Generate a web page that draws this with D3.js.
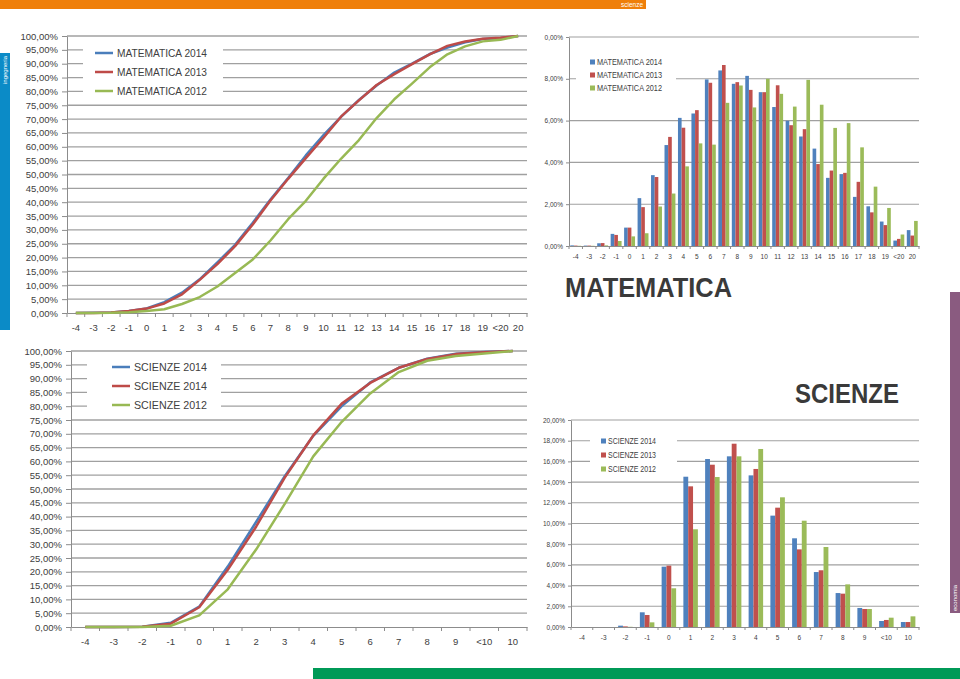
<!DOCTYPE html>
<html><head><meta charset="utf-8">
<script src="https://cdn.jsdelivr.net/npm/d3@7"></script>
<style>
body{margin:0;background:#fff;}
svg{display:block;font-family:"Liberation Sans",Arial,sans-serif;}
</style>
</head><body>
<svg id="c" width="960" height="679"></svg>
<script>
// ---------- DATA ----------
const catsMat = ["-4","-3","-2","-1","0","1","2","3","4","5","6","7","8","9","10","11","12","13","14","15","16","17","18","19","<20","20"];
const catsSci = ["-4","-3","-2","-1","0","1","2","3","4","5","6","7","8","9","<10","10"];

// cumulative distributions (line charts), %
const cumMat2014 = [0.03,0.05,0.18,0.76,1.64,3.93,7.32,12.15,18.28,24.62,32.59,40.99,48.75,56.89,64.25,70.90,76.89,82.13,86.79,90.05,93.49,95.84,97.74,98.91,99.17,100];
const cumMat2013 = [0.02,0.04,0.18,0.71,1.59,3.45,6.75,11.97,17.63,24.13,31.94,40.60,48.44,55.91,63.27,70.96,76.74,82.33,86.25,89.86,93.36,96.43,98.04,99.04,99.38,100];
const cumMat2012 = [0.01,0.02,0.05,0.29,0.75,1.36,3.25,5.76,9.57,14.48,19.33,26.18,33.86,40.49,48.49,55.77,62.44,70.39,77.15,82.80,88.68,93.40,96.24,98.06,98.61,100];

const cumSci2014 = [0,0,0.13,1.55,7.38,21.90,38.13,54.62,69.27,80.03,88.60,93.91,97.19,99.03,99.61,100];
const cumSci2014b = [0,0,0.06,1.22,7.15,20.74,36.42,54.13,69.40,80.93,88.43,93.91,97.13,98.87,99.55,100];
const cumSci2012 = [0,0,0.02,0.47,4.21,13.65,28.14,44.63,61.83,74.36,84.63,92.36,96.48,98.22,99.12,100];

// frequency distributions (bar charts), %
const barMat2014 = [0.03,0.02,0.13,0.58,0.88,2.29,3.39,4.83,6.13,6.34,7.97,8.40,7.76,8.14,7.36,6.65,5.99,5.24,4.66,3.26,3.44,2.35,1.90,1.17,0.26,0.76];
const barMat2013 = [0.02,0.02,0.14,0.53,0.88,1.86,3.30,5.22,5.66,6.50,7.81,8.66,7.84,7.47,7.36,7.69,5.78,5.59,3.92,3.61,3.50,3.07,1.61,1.00,0.34,0.50];
const barMat2012 = [0.01,0.01,0.03,0.24,0.46,0.61,1.89,2.51,3.81,4.91,4.85,6.85,7.68,6.63,8.00,7.28,6.67,7.95,6.76,5.65,5.88,4.72,2.84,1.82,0.55,1.20];

const barSci2014 = [0,0,0.13,1.42,5.83,14.52,16.23,16.49,14.65,10.76,8.57,5.31,3.28,1.84,0.58,0.48];
const barSci2013 = [0,0,0.06,1.16,5.93,13.59,15.68,17.71,15.27,11.53,7.50,5.48,3.22,1.74,0.68,0.48];
const barSci2012 = [0,0,0.02,0.45,3.74,9.44,14.49,16.49,17.20,12.53,10.27,7.73,4.12,1.74,0.90,1.03];

// tick values / labels
const lineYTicks = [0,5,10,15,20,25,30,35,40,45,50,55,60,65,70,75,80,85,90,95,100];
const matBarYTicks = [0,2,4,6,8,10];
const matBarYLabels = ["0,00%","2,00%","4,00%","6,00%","8,00%","0,00%"];
const sciBarYTicks = [0,2,4,6,8,10,12,14,16,18,20];

const namesMatLine = ["MATEMATICA 2014","MATEMATICA 2013","MATEMATICA 2012"];
const namesSciLine = ["SCIENZE 2014","SCIENZE 2014","SCIENZE 2012"];
const namesMatBar = ["MATEMATICA 2014","MATEMATICA 2013","MATEMATICA 2012"];
const namesSciBar = ["SCIENZE 2014","SCIENZE 2013","SCIENZE 2012"];

// ---------- STYLE ----------
const lineCol = ["#4a7ebb","#be4b48","#98b954"];
const barCol = ["#4f81bd","#c0504d","#9bbb59"];
const gridCol = "#a0a0a0";
const axisCol = "#8c8c8c";
const textCol = "#404040";
const fmtPct = d => d3.format(".2f")(d).replace(".", ",") + "%";

const svg = d3.select("#c");

// ---------- DECORATION ----------
svg.append("rect").attr("x",0).attr("y",0).attr("width",646).attr("height",9).attr("fill","#ef7f0a");
svg.append("text").attr("x",632).attr("y",7).attr("text-anchor","middle").attr("font-size",6.5).attr("fill","#fff").text("scienze");
svg.append("rect").attr("x",0).attr("y",53).attr("width",10).attr("height",277).attr("fill","#0b8bc7");
svg.append("text").attr("transform","translate(7.3,70) rotate(-90)").attr("text-anchor","middle").attr("font-size",6).attr("fill","#fff").text("ingegneria");
svg.append("rect").attr("x",950).attr("y",292).attr("width",10).attr("height",321).attr("fill","#8a5b80");
svg.append("text").attr("transform","translate(957.3,598) rotate(-90)").attr("text-anchor","middle").attr("font-size",6).attr("fill","#fff").text("economia");
svg.append("rect").attr("x",313).attr("y",668).attr("width",647).attr("height",11).attr("fill","#009a57");

svg.append("text").attr("x",565).attr("y",297).attr("font-size",27).attr("font-weight","bold")
  .attr("fill","#3a3a3a").attr("textLength",167).attr("lengthAdjust","spacingAndGlyphs").text("MATEMATICA");
svg.append("text").attr("x",795).attr("y",403).attr("font-size",27).attr("font-weight","bold")
  .attr("fill","#3a3a3a").attr("textLength",104).attr("lengthAdjust","spacingAndGlyphs").text("SCIENZE");

// ---------- LINE CHART ----------
function lineChart(o){
  const g = svg.append("g");
  const x = d3.scaleBand().domain(o.cats).range([o.x0,o.x1]);
  const y = d3.scaleLinear().domain([0,100]).range([o.yb,o.yt]);
  g.selectAll("line.grid").data(o.yTicks.filter(d=>d>0)).join("line")
    .attr("x1",o.x0).attr("x2",o.x1).attr("y1",d=>y(d)).attr("y2",d=>y(d))
    .attr("stroke",gridCol).attr("stroke-width",1.3);
  const ya = g.append("g").attr("transform",`translate(${o.x0},0)`)
    .call(d3.axisLeft(y).tickValues(o.yTicks).tickFormat(fmtPct).tickSize(5).tickSizeOuter(0).tickPadding(4));
  ya.attr("font-family",null);
  ya.selectAll("path,line").attr("stroke",axisCol);
  ya.selectAll("text").attr("font-size",9.5).attr("fill",textCol);
  const xa = g.append("g").attr("transform",`translate(0,${o.yb})`)
    .call(d3.axisBottom(x).tickSize(0).tickSizeOuter(0).tickPadding(11));
  xa.attr("font-family",null);
  xa.select("path").attr("stroke",axisCol);
  xa.selectAll("text").attr("font-size",9.5).attr("fill",textCol);
  const bounds = o.cats.map(c=>x(c)).concat([x(o.cats[o.cats.length-1])+x.step()]);
  g.selectAll("line.xt").data(bounds).join("line")
    .attr("x1",d=>d).attr("x2",d=>d).attr("y1",o.yb).attr("y2",o.yb+4).attr("stroke",axisCol);
  // legend
  const lg = g.append("g");
  lg.append("rect").attr("x",o.lg.x0).attr("y",o.lg.y0).attr("width",o.lg.w).attr("height",o.lg.h).attr("fill","#fff");
  o.series.forEach((s,i)=>{
    const yy = o.lg.ys[i];
    lg.append("line").attr("x1",o.lg.lx).attr("x2",o.lg.lx+18).attr("y1",yy).attr("y2",yy)
      .attr("stroke",lineCol[i]).attr("stroke-width",2.5);
    lg.append("text").attr("x",o.lg.lx+22).attr("y",yy+4.2).attr("font-size",11.5).attr("fill",textCol)
      .attr("textLength",o.lg.tw).attr("lengthAdjust","spacingAndGlyphs").text(s.name);
  });
  const line = d3.line().x((d,i)=>x(o.cats[i])+x.bandwidth()/2).y(d=>y(d));
  o.series.forEach((s,i)=>{
    g.append("path").datum(s.values).attr("d",line).attr("fill","none")
      .attr("stroke",lineCol[i]).attr("stroke-width",2.5).attr("stroke-linejoin","round");
  });
}

lineChart({cats:catsMat, x0:67, x1:527, yt:36, yb:313, yTicks:lineYTicks,
  series:[{name:namesMatLine[0],values:cumMat2014},{name:namesMatLine[1],values:cumMat2013},{name:namesMatLine[2],values:cumMat2012}],
  lg:{x0:83,y0:43,w:140,h:57,lx:95,ys:[53,72,91],tw:90}});

lineChart({cats:catsSci, x0:71, x1:527, yt:351, yb:627, yTicks:lineYTicks,
  series:[{name:namesSciLine[0],values:cumSci2014},{name:namesSciLine[1],values:cumSci2014b},{name:namesSciLine[2],values:cumSci2012}],
  lg:{x0:87,y0:357,w:134,h:56,lx:112,ys:[367,386,405],tw:73}});

// ---------- BAR CHART ----------
function barChart(o){
  const g = svg.append("g");
  const x = d3.scaleBand().domain(o.cats).range([o.x0,o.x1]);
  const y = d3.scaleLinear().domain([0,o.ymax]).range([o.yb,o.yt]);
  const bw = x.bandwidth()/o.div;
  const xs = d3.scaleBand().domain([0,1,2]).range([x.bandwidth()/2-1.5*bw, x.bandwidth()/2+1.5*bw]);
  g.selectAll("line.grid").data(o.yTicks.filter(d=>d>0)).join("line")
    .attr("x1",o.x0).attr("x2",o.x1).attr("y1",d=>y(d)).attr("y2",d=>y(d))
    .attr("stroke",gridCol).attr("stroke-width",1.1);
  const ya = g.append("g").attr("transform",`translate(${o.x0},0)`)
    .call(d3.axisLeft(y).tickValues(o.yTicks).tickFormat((d,i)=>o.yLabels[i]).tickSize(3).tickSizeOuter(0).tickPadding(3));
  ya.attr("font-family",null);
  ya.selectAll("path,line").attr("stroke",axisCol);
  ya.selectAll("text").attr("font-size",6.5).attr("fill",textCol);
  // legend box
  const lg = g.append("g");
  lg.append("rect").attr("x",o.lg.x0).attr("y",o.lg.y0).attr("width",o.lg.w).attr("height",o.lg.h).attr("fill","#fff");
  o.series.forEach((s,i)=>{
    const yy = o.lg.ys[i];
    lg.append("rect").attr("x",o.lg.lx).attr("y",yy-2.5).attr("width",5).attr("height",5).attr("fill",barCol[i]);
    lg.append("text").attr("x",o.lg.lx+7).attr("y",yy+3).attr("font-size",8.5).attr("fill",textCol)
      .attr("textLength",o.lg.tw).attr("lengthAdjust","spacingAndGlyphs").text(s.name);
  });
  o.series.forEach((s,i)=>{
    g.append("g").selectAll("rect").data(s.values).join("rect")
      .attr("x",(d,j)=>x(o.cats[j])+xs(i)).attr("width",xs.bandwidth())
      .attr("y",d=>y(d)).attr("height",d=>y(0)-y(d)).attr("fill",barCol[i]);
  });
  const xa = g.append("g").attr("transform",`translate(0,${o.yb})`)
    .call(d3.axisBottom(x).tickSize(0).tickSizeOuter(0).tickPadding(8));
  xa.attr("font-family",null);
  xa.select("path").attr("stroke",axisCol);
  xa.selectAll("text").attr("font-size",6.5).attr("fill",textCol);
  const bounds = o.cats.map(c=>x(c)).concat([x(o.cats[o.cats.length-1])+x.step()]);
  g.selectAll("line.xt").data(bounds).join("line")
    .attr("x1",d=>d).attr("x2",d=>d).attr("y1",o.yb).attr("y2",o.yb+3).attr("stroke",axisCol);
}

barChart({cats:catsMat, x0:569, x1:919, yt:37, yb:246, ymax:10, div:3.7,
  yTicks:matBarYTicks, yLabels:matBarYLabels,
  series:[{name:namesMatBar[0],values:barMat2014},{name:namesMatBar[1],values:barMat2013},{name:namesMatBar[2],values:barMat2012}],
  lg:{x0:576,y0:52,w:100,h:45,lx:590,ys:[62,75,88],tw:65}});

barChart({cats:catsSci, x0:571, x1:919, yt:420, yb:627, ymax:20, div:4.5,
  yTicks:sciBarYTicks, yLabels:sciBarYTicks.map(fmtPct),
  series:[{name:namesSciBar[0],values:barSci2014},{name:namesSciBar[1],values:barSci2013},{name:namesSciBar[2],values:barSci2012}],
  lg:{x0:590,y0:431,w:87,h:46,lx:601,ys:[441,455,469],tw:48}});
</script>
</body></html>
